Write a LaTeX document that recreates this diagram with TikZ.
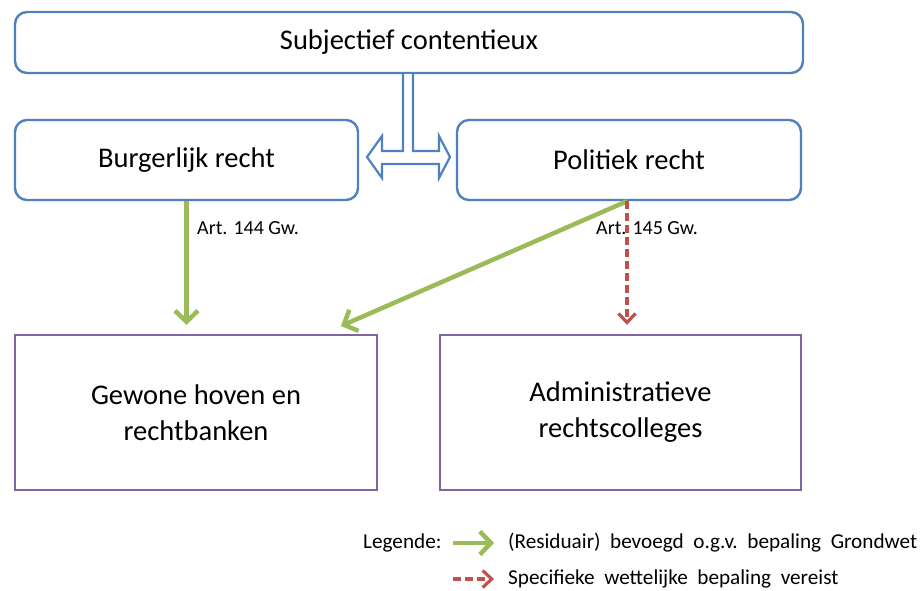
\documentclass[tikz,border=0pt]{standalone}
\usepackage{fontspec}
\setmainfont{Carlito}
\usetikzlibrary{arrows.meta}
\definecolor{bblue}{HTML}{4F81BD}
\definecolor{bpurple}{HTML}{8064A2}
\definecolor{bgreen}{HTML}{9BBB59}
\definecolor{bred}{HTML}{C0504D}
\tikzset{
  topbox/.style={draw=bblue, line width=2.4pt, rounded corners=12pt, fill=white, inner sep=0pt, font=\fontsize{28.5}{32}\selectfont},
  botbox/.style={draw=bpurple, line width=2.4pt, fill=white, inner sep=0pt, align=center, font=\fontsize{28.5}{36}\selectfont},
  garrow/.style={draw=bgreen, line width=4.5pt, -{Straight Barb[length=11pt,width=23pt,line width=4.5pt]}},
  rarrow/.style={draw=bred, line width=3.2pt, dash pattern=on 8pt off 4pt, -{Straight Barb[length=9pt,width=17pt,line width=3.2pt]}},
  artlbl/.style={font=\fontsize{20}{22}\selectfont, inner sep=0pt, anchor=west},
  legtxt/.style={font=\fontsize{21.2}{24}\selectfont, inner sep=0pt, anchor=west},
}
\begin{document}
\begin{tikzpicture}[x=1pt,y=-1pt]
\useasboundingbox (0,0) rectangle (920,590);
\node[topbox, minimum width=788pt, minimum height=61pt] (top) at (409,42.5) {Subjectief contentieux};
\node[topbox, minimum width=343pt, minimum height=80pt] (burg) at (186.5,160) {Burgerlijk recht};
\node[topbox, minimum width=344pt, minimum height=80pt] (pol) at (629,160) {Politiek recht};
\node[botbox, minimum width=362pt, minimum height=155pt] (gew) at (196,412.5) {Gewone hoven en\\rechtbanken};
\node[botbox, minimum width=361pt, minimum height=155pt] (adm) at (620.5,412.5) {Administratieve\\rechtscolleges};
% T-shaped double arrow
\draw[bblue, line width=2.2pt, fill=white, line join=miter]
  (top.south -| 403,0) -- (403,151) -- (382,151) -- (382,136) -- (367,157) -- (382,178) -- (382,164)
  -- (439,164) -- (439,178) -- (450,157) -- (439,136) -- (439,151) -- (413,151) -- (top.south -| 413,0);
% connectors
\coordinate (gtarget) at (341,326);
\coordinate (ps) at ([xshift=-2pt]pol.south);
\draw[garrow] (burg.south) -- ([yshift=9pt]gew.north -| burg.south);
\draw[garrow] (ps) -- (gtarget);
\draw[rarrow] (ps) -- ([yshift=9pt]adm.north -| ps);
\node[artlbl] (a144) at (197,228) {Art. 144 Gw.};
\node[artlbl] (a145) at (596,228) {Art. 145 Gw.};
% legend
\node[legtxt] (leg) at (363,543) {Legende:};
\coordinate (lg1) at (453,543);
\coordinate (lg2) at (494,543);
\coordinate (lr1) at (453,579);
\coordinate (lr2) at (494,579);
\draw[garrow, line width=3.8pt] (lg1) -- (lg2);
\draw[rarrow] (lr1) -- (lr2);
\node[legtxt] (l1) at (508,543) {(Residuair)\ \ bevoegd\ \ o.g.v.\ \ bepaling\ \ Grondwet};
\node[legtxt] (l2) at (508,579) {Specifieke\ \ wettelijke\ \ bepaling\ \ vereist};
\end{tikzpicture}
\end{document}
